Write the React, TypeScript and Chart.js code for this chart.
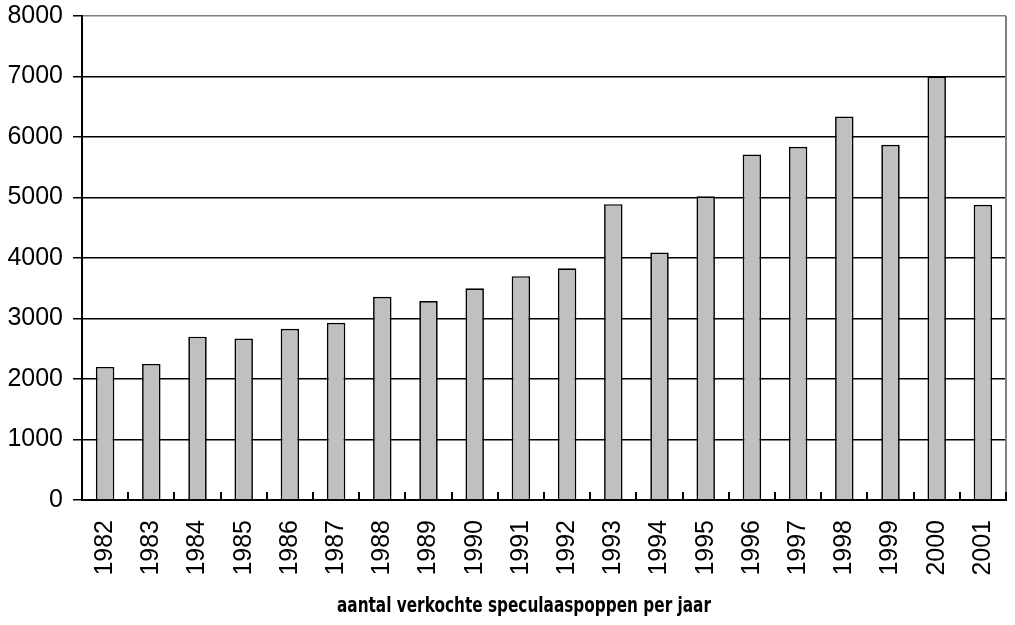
import React, { useEffect, useRef } from "react";
import { Chart, registerables } from "chart.js";

Chart.register(...registerables);

const years = ["1982","1983","1984","1985","1986","1987","1988","1989","1990","1991","1992","1993","1994","1995","1996","1997","1998","1999","2000","2001"];
const sales = [2200, 2250, 2700, 2670, 2830, 2930, 3360, 3290, 3500, 3700, 3830, 4890, 4090, 5020, 5710, 5840, 6340, 5870, 7000, 4880];
const yMin = 0;
const yMax = 8000;
const yStep = 1000;
const axisTitle = "aantal verkochte speculaaspoppen per jaar";

const framePlugin = {
  id: "frame",
  afterDraw(chart: any) {
    const { ctx, chartArea } = chart;
    const xs = chart.scales.x;
    ctx.save();
    // right border (gray)
    ctx.strokeStyle = "#808080";
    ctx.lineWidth = 2;
    ctx.beginPath();
    ctx.moveTo(chartArea.right, chartArea.top);
    ctx.lineTo(chartArea.right, chartArea.bottom);
    ctx.stroke();
    // inward category ticks
    ctx.strokeStyle = "#000";
    ctx.lineWidth = 2;
    for (let i = 1; i <= years.length; i++) {
      const x = Math.round(xs.getPixelForValue(i - 0.5));
      ctx.beginPath();
      ctx.moveTo(x, chartArea.bottom);
      ctx.lineTo(x, chartArea.bottom - 8);
      ctx.stroke();
    }
    // axis title (condensed bold)
    ctx.fillStyle = "#000";
    ctx.font = "bold 22px 'Liberation Sans Narrow', 'DejaVu Sans Condensed', sans-serif";
    ctx.textAlign = "center";
    ctx.textBaseline = "alphabetic";
    const w = ctx.measureText(axisTitle).width;
    const sx = Math.min(1, 374 / w);
    ctx.translate(524, 612);
    ctx.scale(sx, 1);
    ctx.fillText(axisTitle, 0, 0);
    ctx.restore();
  },
};

export default function App() {
  const ref = useRef<HTMLCanvasElement | null>(null);
  useEffect(() => {
    if (!ref.current) return;
    Chart.defaults.font.family = "'Liberation Sans', Arial, sans-serif";
    const chart = new Chart(ref.current, {
      type: "bar",
      data: {
        labels: years,
        datasets: [
          {
            data: sales,
            backgroundColor: "#c0c0c0",
            borderColor: "#000",
            borderWidth: 1.7,
            barPercentage: 0.4,
            categoryPercentage: 1,
          },
        ],
      },
      options: {
        responsive: false,
        animation: false,
        layout: { padding: { top: 16, right: 9, left: 0, bottom: 0 } },
        plugins: { legend: { display: false }, tooltip: { enabled: false } },
        scales: {
          x: {
            grid: { display: false, drawTicks: false },
            border: { display: true, color: "#000", width: 2 },
            ticks: { minRotation: 90, maxRotation: 90, autoSkip: false, padding: 20, color: "#000", font: { size: 25 } },
            afterFit: (s: any) => {
              s.height = 125;
              s.paddingLeft = 0;
              s.paddingRight = 0;
            },
          },
          y: {
            min: yMin,
            max: yMax,
            ticks: {
              stepSize: yStep,
              padding: 10,
              color: "#000",
              font: { size: 25 },
              callback: (v: any) => String(v),
            },
            grid: {
              color: (c: any) => (c.tick && c.tick.value === yMax ? "#808080" : "#000"),
              tickColor: "#000",
              tickLength: 9,
              lineWidth: 1.5,
            },
            border: { color: "#000", width: 2 },
            afterFit: (s: any) => {
              s.width = 82;
              s.paddingTop = 0;
              s.paddingBottom = 0;
            },
          },
        },
      },
      plugins: [framePlugin],
    });
    return () => chart.destroy();
  }, []);
  return (
    <div style={{ position: "absolute", left: 0, top: 0, width: 1015, height: 625, background: "#fff" }}>
      <canvas ref={ref} width={1015} height={625} />
    </div>
  );
}
